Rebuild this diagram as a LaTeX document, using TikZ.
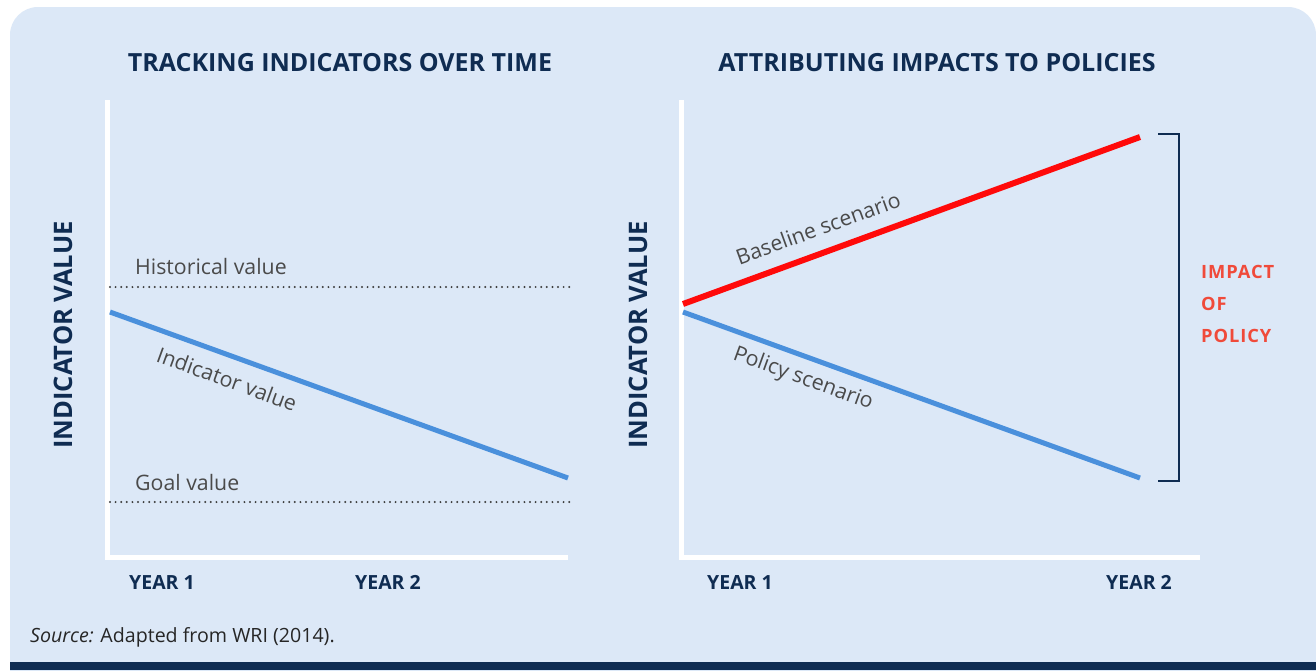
\documentclass[tikz,border=0pt]{standalone}
\usepackage{fontspec}
\setmainfont{Open Sans}
\definecolor{bg}{HTML}{DCE8F7}
\definecolor{navy}{HTML}{0F2C52}
\definecolor{lineblue}{HTML}{4A90DC}
\definecolor{linered}{HTML}{FF0A0A}
\definecolor{impact}{HTML}{F04A3A}
\definecolor{txtgray}{HTML}{3C3C3C}
\definecolor{labgray}{HTML}{4A4A4A}
\newfontfamily\spaced[LetterSpace=5]{Open Sans}
\begin{document}
\begin{tikzpicture}[x=1pt,y=-1pt,
  axis/.style={white,line width=5pt},
  dotline/.style={txtgray,line width=2.2pt,line cap=round,dash pattern=on 0pt off 5.6pt},
  blueline/.style={lineblue,line width=5pt},
  redline/.style={linered,line width=6pt},
  title/.style={navy,font=\fontsize{25}{30}\selectfont\bfseries},
  ylab/.style={navy,font=\fontsize{25.5}{28}\selectfont\bfseries,rotate=90},
  year/.style={navy,font=\fontsize{19.5}{23}\selectfont\bfseries},
  lab/.style={labgray,font=\fontsize{21.3}{24}\selectfont},
  brk/.style={navy,line width=2.5pt}]
\useasboundingbox (0,0) rectangle (1316,670);
\fill[white] (0,0) rectangle (1316,670);
\begin{scope}
\clip (0,0) rectangle (1316,670);
\fill[bg,rounded corners=28pt] (10,7) rectangle (1316,720);
\end{scope}
\fill[navy] (10,662) rectangle (1316,670);

% titles
\node[title] (t1) at (340,63) {TRACKING INDICATORS OVER TIME};
\node[title] (t2) at (937,63) {ATTRIBUTING IMPACTS TO POLICIES};

% left chart
\coordinate (l0) at (107,100);
\coordinate (lc) at (107,557);
\coordinate (l1) at (568,557);
\draw[axis] (l0) -- (lc) -- (l1);
\coordinate (h0) at (110,287);
\coordinate (h1) at (570,287);
\draw[dotline] (h0) -- (h1);
\coordinate (g0) at (110,502);
\coordinate (g1) at (570,502);
\draw[dotline] (g0) -- (g1);
\coordinate (i0) at (110,312);
\coordinate (i1) at (568,478);
\draw[blueline] (i0) -- (i1);
\node[lab,anchor=base west,inner sep=0pt] (hl) at (135,274) {Historical value};
\node[lab,anchor=base west,inner sep=0pt] (gl) at (135,490) {Goal value};
\node[lab,rotate=-20] (il) at (227,379) {Indicator value};
\node[ylab] (yl1) at (63,335) {INDICATOR VALUE};
\node[year] (y11) at (162,582) {YEAR 1};
\node[year] (y12) at (388,582) {YEAR 2};

% right chart
\coordinate (r0) at (681,100);
\coordinate (rc) at (681,557);
\coordinate (r1) at (1200,557);
\draw[axis] (r0) -- (rc) -- (r1);
\coordinate (b0) at (683,304);
\coordinate (b1) at (1140,137);
\draw[redline] (b0) -- (b1);
\coordinate (p0) at (683,312);
\coordinate (p1) at (1140,478);
\draw[blueline] (p0) -- (p1);
\node[lab,rotate=20] (bl) at (818,228) {Baseline scenario};
\node[lab,rotate=-20] (pl) at (803,379) {Policy scenario};
\coordinate (k0) at (1158,134);
\coordinate (k1) at (1179,134);
\coordinate (k2) at (1179,481);
\coordinate (k3) at (1158,481);
\draw[brk] (k0) -- (k1) -- (k2) -- (k3);
\node[impact,anchor=north west,align=left,inner sep=0pt,
  font=\fontsize{18.3}{32}\spaced\bfseries] (ip) at (1201,265) {IMPACT\\OF\\POLICY};
\node[ylab] (yl2) at (638,335) {INDICATOR VALUE};
\node[year] (y21) at (740,582) {YEAR 1};
\node[year] (y22) at (1139,582) {YEAR 2};

% source
\node[black!85,anchor=base west,inner sep=0pt,font=\fontsize{19.6}{23}\selectfont] (src) at (30,642) {\textit{Source:} Adapted from WRI (2014).};
\end{tikzpicture}
\end{document}
